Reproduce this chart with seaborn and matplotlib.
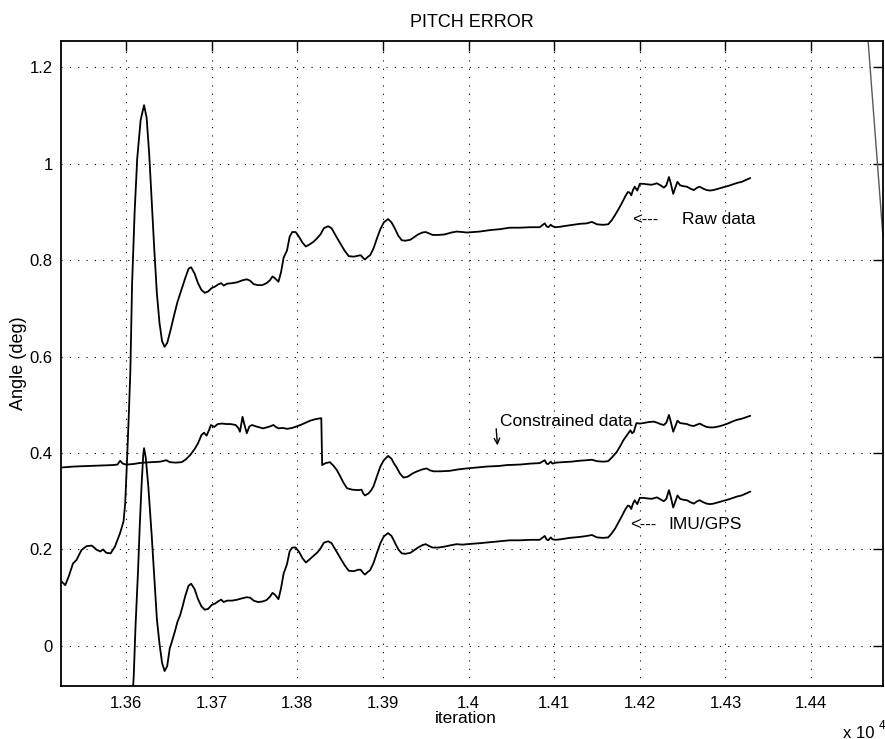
import matplotlib
matplotlib.use("Agg")
import matplotlib.pyplot as plt
import seaborn as sns
import pandas as pd
from matplotlib.ticker import FixedLocator, FixedFormatter

# ---------------- data ----------------
raw_x = [13525, 13529, 13533, 13538, 13542, 13548, 13554, 13560, 13566, 13570,
         13573, 13577, 13582, 13587, 13593, 13597, 13599, 13601, 13603, 13605,
         13607, 13610, 13613, 13617, 13621, 13624, 13627, 13630, 13633, 13636,
         13639, 13642, 13645, 13648, 13652, 13656, 13660, 13664, 13669, 13673,
         13676, 13680, 13684, 13688, 13692, 13696, 13700, 13704, 13708, 13711,
         13714, 13718, 13724, 13730, 13736, 13741, 13745, 13749, 13754, 13759,
         13764, 13768, 13771, 13774, 13778, 13781, 13784, 13788, 13791, 13794,
         13798, 13802, 13806, 13810, 13814, 13819, 13823, 13827, 13831, 13836,
         13840, 13845, 13850, 13855, 13860, 13866, 13871, 13874, 13877, 13879,
         13882, 13885, 13889, 13893, 13897, 13901, 13906, 13910, 13914, 13918,
         13922, 13926, 13932, 13937, 13941, 13946, 13950, 13954, 13958, 13965,
         13972, 13980, 13986, 13993, 13998, 14006, 14013, 14025, 14037, 14048,
         14060, 14072, 14083, 14086, 14089, 14091, 14093, 14096, 14098, 14102,
         14107, 14118, 14130, 14138, 14144, 14150, 14157, 14163, 14167, 14171,
         14175, 14179, 14183, 14186, 14188, 14190, 14192, 14194, 14197, 14200,
         14204, 14208, 14214, 14220, 14225, 14228, 14231, 14234, 14236, 14239,
         14241, 14244, 14247, 14251, 14255, 14259, 14263, 14267, 14270, 14274,
         14278, 14282, 14286, 14292, 14298, 14304, 14309, 14314, 14319, 14324,
         14329]
raw_y = [0.133, 0.126, 0.144, 0.171, 0.178, 0.199, 0.207, 0.208, 0.199, 0.196,
         0.200, 0.193, 0.192, 0.206, 0.234, 0.258, 0.296, 0.380, 0.470, 0.570,
         0.750, 0.900, 1.010, 1.090, 1.121, 1.095, 1.020, 0.920, 0.820, 0.730,
         0.670, 0.632, 0.620, 0.628, 0.655, 0.685, 0.713, 0.735, 0.762, 0.782,
         0.785, 0.772, 0.752, 0.738, 0.732, 0.735, 0.742, 0.745, 0.750, 0.752,
         0.747, 0.751, 0.752, 0.754, 0.758, 0.760, 0.757, 0.750, 0.748, 0.748,
         0.752, 0.758, 0.766, 0.762, 0.755, 0.775, 0.805, 0.820, 0.848, 0.858,
         0.858, 0.848, 0.836, 0.828, 0.832, 0.838, 0.845, 0.853, 0.866, 0.870,
         0.866, 0.850, 0.835, 0.820, 0.808, 0.807, 0.809, 0.810, 0.804, 0.801,
         0.806, 0.810, 0.824, 0.845, 0.864, 0.878, 0.885, 0.878, 0.865, 0.850,
         0.841, 0.840, 0.842, 0.848, 0.853, 0.857, 0.858, 0.855, 0.852, 0.852,
         0.853, 0.857, 0.859, 0.858, 0.857, 0.858, 0.859, 0.862, 0.864, 0.867,
         0.867, 0.868, 0.868, 0.872, 0.876, 0.870, 0.868, 0.873, 0.870, 0.868,
         0.869, 0.872, 0.875, 0.876, 0.879, 0.874, 0.873, 0.874, 0.882, 0.893,
         0.905, 0.918, 0.932, 0.941, 0.940, 0.934, 0.945, 0.952, 0.944, 0.958,
         0.958, 0.957, 0.956, 0.959, 0.954, 0.950, 0.955, 0.972, 0.960, 0.937,
         0.948, 0.962, 0.955, 0.953, 0.952, 0.948, 0.945, 0.950, 0.952, 0.948,
         0.945, 0.944, 0.945, 0.948, 0.951, 0.954, 0.957, 0.960, 0.962, 0.966,
         0.970]

imu_x = [13607, 13609, 13611, 13614, 13616, 13618, 13620, 13621, 13623, 13626,
         13628, 13630, 13633, 13636, 13639, 13642, 13645, 13648, 13651, 13653,
         13657, 13660, 13663, 13666, 13669, 13673, 13676, 13680, 13684, 13688,
         13692, 13696, 13700, 13704, 13708, 13711, 13714, 13718, 13724, 13730,
         13736, 13741, 13745, 13749, 13754, 13759, 13764, 13768, 13771, 13774,
         13778, 13781, 13784, 13788, 13791, 13794, 13798, 13802, 13806, 13810,
         13814, 13819, 13823, 13827, 13831, 13836, 13840, 13845, 13850, 13855,
         13860, 13866, 13871, 13874, 13877, 13879, 13882, 13885, 13889, 13893,
         13897, 13901, 13906, 13910, 13914, 13918, 13922, 13926, 13932, 13937,
         13941, 13946, 13950, 13954, 13958, 13965, 13972, 13980, 13986, 13993,
         13998, 14006, 14013, 14025, 14037, 14048, 14060, 14072, 14083, 14086,
         14089, 14091, 14093, 14096, 14098, 14102, 14107, 14118, 14130, 14138,
         14144, 14150, 14157, 14163, 14167, 14171, 14175, 14179, 14183, 14186,
         14188, 14190, 14192, 14194, 14197, 14200, 14204, 14208, 14214, 14220,
         14225, 14228, 14231, 14234, 14236, 14239, 14241, 14244, 14247, 14251,
         14255, 14259, 14263, 14267, 14270, 14274, 14278, 14282, 14286, 14292,
         14298, 14304, 14309, 14314, 14319, 14324, 14329]
imu_y = [-0.120, -0.060, 0.040, 0.157, 0.250, 0.330, 0.395, 0.410, 0.390, 0.330,
         0.280, 0.227, 0.140, 0.055, 0.005, -0.035, -0.052, -0.042, -0.005, 0.006,
         0.030, 0.050, 0.063, 0.082, 0.103, 0.125, 0.129, 0.118, 0.097, 0.082,
         0.075, 0.077, 0.085, 0.088, 0.093, 0.096, 0.091, 0.094, 0.094, 0.096,
         0.099, 0.101, 0.100, 0.094, 0.091, 0.092, 0.095, 0.102, 0.110, 0.106,
         0.097, 0.120, 0.150, 0.170, 0.196, 0.204, 0.204, 0.195, 0.182, 0.173,
         0.179, 0.187, 0.193, 0.202, 0.214, 0.217, 0.213, 0.198, 0.183, 0.168,
         0.156, 0.155, 0.158, 0.158, 0.151, 0.148, 0.153, 0.157, 0.172, 0.193,
         0.213, 0.227, 0.234, 0.228, 0.214, 0.200, 0.192, 0.191, 0.193, 0.199,
         0.204, 0.209, 0.211, 0.207, 0.204, 0.204, 0.206, 0.209, 0.211, 0.210,
         0.211, 0.212, 0.213, 0.215, 0.217, 0.219, 0.219, 0.220, 0.220, 0.224,
         0.228, 0.221, 0.219, 0.225, 0.221, 0.220, 0.221, 0.224, 0.226, 0.228,
         0.230, 0.225, 0.224, 0.225, 0.233, 0.243, 0.256, 0.269, 0.283, 0.291,
         0.290, 0.284, 0.295, 0.302, 0.294, 0.307, 0.307, 0.306, 0.305, 0.308,
         0.303, 0.300, 0.305, 0.323, 0.310, 0.287, 0.297, 0.312, 0.305, 0.303,
         0.302, 0.298, 0.295, 0.300, 0.302, 0.298, 0.295, 0.294, 0.295, 0.298,
         0.301, 0.304, 0.307, 0.310, 0.312, 0.316, 0.320]

con_x = [13525, 13540, 13555, 13570, 13585, 13590, 13593, 13596, 13600, 13608,
         13615, 13620, 13630, 13640, 13647, 13651, 13658, 13665, 13670, 13675,
         13680, 13684, 13688, 13691, 13694, 13697, 13699, 13703, 13707, 13712,
         13717, 13722, 13728, 13731, 13733, 13736, 13738, 13741, 13744, 13747,
         13752, 13756, 13760, 13764, 13768, 13772, 13775, 13778, 13783, 13788,
         13794, 13799, 13805, 13810, 13815, 13821, 13827, 13828, 13829, 13833,
         13838, 13842, 13846, 13850, 13854, 13858, 13864, 13871, 13875, 13877,
         13879, 13883, 13886, 13889, 13893, 13897, 13901, 13906, 13910, 13913,
         13916, 13920, 13924, 13929, 13935, 13940, 13946, 13951, 13955, 13959,
         13967, 13978, 13988, 13998, 14010, 14022, 14035, 14045, 14060, 14072,
         14083, 14086, 14089, 14091, 14093, 14096, 14098, 14102, 14110, 14120,
         14130, 14138, 14144, 14150, 14157, 14163, 14168, 14173, 14177, 14181,
         14185, 14187, 14189, 14191, 14193, 14196, 14200, 14204, 14210, 14216,
         14220, 14224, 14228, 14231, 14234, 14236, 14239, 14241, 14244, 14247,
         14251, 14255, 14259, 14263, 14267, 14270, 14274, 14278, 14282, 14286,
         14292, 14298, 14304, 14309, 14314, 14319, 14324, 14329]
con_y = [0.370, 0.372, 0.373, 0.374, 0.375, 0.376, 0.384, 0.378, 0.376, 0.377,
         0.379, 0.380, 0.381, 0.382, 0.385, 0.381, 0.380, 0.381, 0.387, 0.396,
         0.408, 0.420, 0.437, 0.442, 0.436, 0.448, 0.458, 0.454, 0.460, 0.461,
         0.460, 0.460, 0.458, 0.452, 0.444, 0.475, 0.460, 0.441, 0.455, 0.458,
         0.455, 0.453, 0.451, 0.453, 0.455, 0.458, 0.454, 0.451, 0.452, 0.450,
         0.452, 0.455, 0.459, 0.463, 0.467, 0.470, 0.472, 0.472, 0.375, 0.379,
         0.381, 0.374, 0.365, 0.352, 0.338, 0.327, 0.324, 0.323, 0.324, 0.316,
         0.312, 0.316, 0.322, 0.331, 0.352, 0.372, 0.385, 0.394, 0.388, 0.378,
         0.370, 0.357, 0.349, 0.351, 0.358, 0.362, 0.366, 0.368, 0.364, 0.362,
         0.362, 0.363, 0.366, 0.368, 0.370, 0.372, 0.373, 0.375, 0.376, 0.378,
         0.379, 0.382, 0.385, 0.378, 0.377, 0.382, 0.378, 0.380, 0.381, 0.382,
         0.384, 0.385, 0.386, 0.383, 0.382, 0.383, 0.392, 0.402, 0.414, 0.427,
         0.437, 0.442, 0.447, 0.441, 0.444, 0.462, 0.461, 0.462, 0.464, 0.465,
         0.463, 0.460, 0.458, 0.463, 0.479, 0.466, 0.444, 0.453, 0.467, 0.462,
         0.461, 0.460, 0.457, 0.456, 0.459, 0.461, 0.457, 0.454, 0.453, 0.453,
         0.455, 0.458, 0.462, 0.466, 0.469, 0.471, 0.474, 0.477]

x_ticks = [13600, 13700, 13800, 13900, 14000, 14100, 14200, 14300, 14400]
x_tick_labels = ["1.36", "1.37", "1.38", "1.39", "1.4", "1.41", "1.42", "1.43", "1.44"]
y_ticks = [0, 0.2, 0.4, 0.6, 0.8, 1.0, 1.2]
y_tick_labels = ["0", "0.2", "0.4", "0.6", "0.8", "1", "1.2"]

# ---------------- style ----------------
sns.set_style("white")
plt.rcParams["font.family"] = ["Liberation Sans", "DejaVu Sans"]
plt.rcParams["axes.edgecolor"] = "black"
plt.rcParams["text.color"] = "black"
plt.rcParams["axes.labelcolor"] = "black"
plt.rcParams["xtick.color"] = "black"
plt.rcParams["ytick.color"] = "black"

fig = plt.figure(figsize=(8.85, 7.39), dpi=100)
ax = fig.add_axes([0.06893, 0.07172, 0.92881, 0.87280])

df_raw = pd.DataFrame({"iteration": raw_x, "angle": raw_y})
df_imu = pd.DataFrame({"iteration": imu_x, "angle": imu_y})
df_con = pd.DataFrame({"iteration": con_x, "angle": con_y})

for df in (df_raw, df_con, df_imu):
    sns.lineplot(data=df, x="iteration", y="angle", ax=ax, color="black",
                 linewidth=1.3, estimator=None, sort=False, zorder=3)

ax.set_xlim(13524, 14484)
ax.set_ylim(-0.083, 1.254)

ax.xaxis.set_major_locator(FixedLocator(x_ticks))
ax.xaxis.set_major_formatter(FixedFormatter(x_tick_labels))
ax.yaxis.set_major_locator(FixedLocator(y_ticks))
ax.yaxis.set_major_formatter(FixedFormatter(y_tick_labels))

ax.grid(True, color="black", linestyle=(0, (1, 6.5)), linewidth=0.8)
ax.set_axisbelow(True)
ax.tick_params(direction="in", length=7, width=1.0, top=True, right=True,
               labelsize=12, colors="black", labelcolor="black")
ax.tick_params(axis="x", pad=7)
ax.tick_params(axis="y", pad=6)
for sp in ax.spines.values():
    sp.set_linewidth(1.3)
    sp.set_color("black")

ax.set_title("PITCH ERROR", fontsize=13, pad=10, color="black")
ax.set_xlabel("iteration", fontsize=12.5, va="center", color="black")
ax.xaxis.set_label_coords(0.4927, -0.050)
ax.set_ylabel("Angle (deg)", fontsize=13, va="center", color="black")
ax.yaxis.set_label_coords(-0.0523, 0.5)

# annotations
ax.text(14191, 0.883, "<---", fontsize=12, va="center", color="black")
ax.text(14249, 0.883, "Raw data", fontsize=12.5, va="center", color="black")
ax.text(14189, 0.251, "<---", fontsize=12, va="center", color="black")
ax.text(14233, 0.251, "IMU/GPS", fontsize=12.5, va="center", color="black")
ax.text(14037, 0.466, "Constrained data", fontsize=12.5, va="center", color="black")
ax.annotate("", xy=(14034, 0.410), xytext=(14032, 0.456),
            arrowprops=dict(arrowstyle="->", color="black", lw=1.0,
                            mutation_scale=10))

# slanted scan artefact at the upper right
ax.plot([0.982, 1.0], [0.998, 0.696], transform=ax.transAxes,
        color="0.35", lw=1.0, clip_on=False)

fig.text(843 / 885, 1 - 733 / 739, "x 10", fontsize=12, va="center", ha="left",
         color="black")
fig.text(879 / 885, 1 - 726 / 739, "4", fontsize=8.5, va="center", ha="left",
         color="black")

fig.savefig("out.png", dpi=100)
